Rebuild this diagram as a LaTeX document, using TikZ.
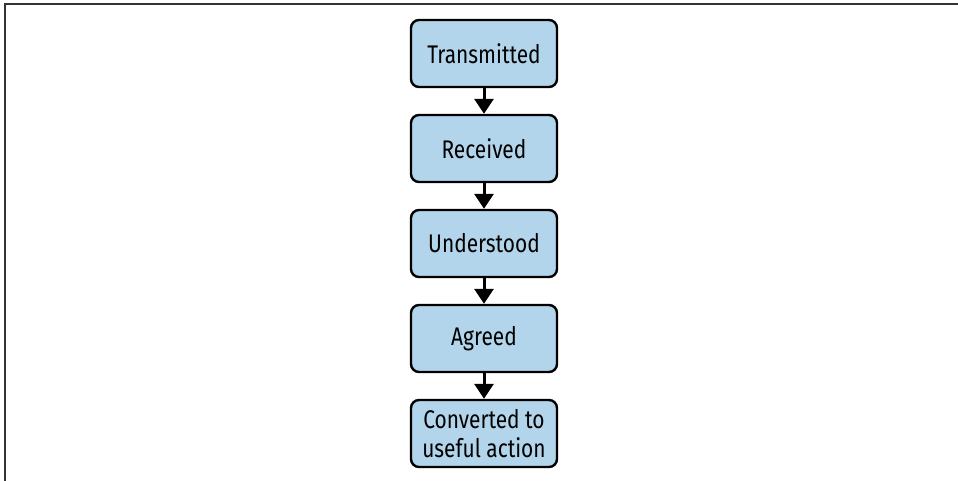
\documentclass[tikz,border=0pt]{standalone}
\usepackage{fontspec}
\setmainfont{Fira Sans}[FakeStretch=0.82]
\usepackage{tikz}
\usetikzlibrary{arrows.meta}
\definecolor{stepblue}{RGB}{179,213,235}
\newcommand\stagebox[3]{\node[stage] (#1) at (484,#2) {#3};}

\begin{document}
\begin{tikzpicture}[x=1pt,y=-1pt,
  stage/.style={draw=black,fill=stepblue,line width=2.4pt,rounded corners=8pt,
    minimum width=146pt,minimum height=67pt,align=center,
    font=\fontsize{25.5}{28.5}\selectfont,inner sep=0pt},
  flow/.style={line width=3pt,-{Triangle[width=19pt,length=15pt]}}]
\useasboundingbox (0,0) rectangle (958,481);
\draw[line width=2pt,black!80] (4.5,481) -- (4.5,4.5) -- (958,4.5);
\stagebox{transmitted}{53.5}{Transmitted}
\stagebox{received}{148.5}{Received}
\stagebox{understood}{243.5}{Understood}
\stagebox{agreed}{338.5}{Agreed}
\stagebox{converted}{433.5}{Converted to\\useful action}
\foreach \a/\b in {transmitted/received,received/understood,understood/agreed,agreed/converted}
  \draw[flow] (\a) -- (\b);
\end{tikzpicture}
\end{document}
